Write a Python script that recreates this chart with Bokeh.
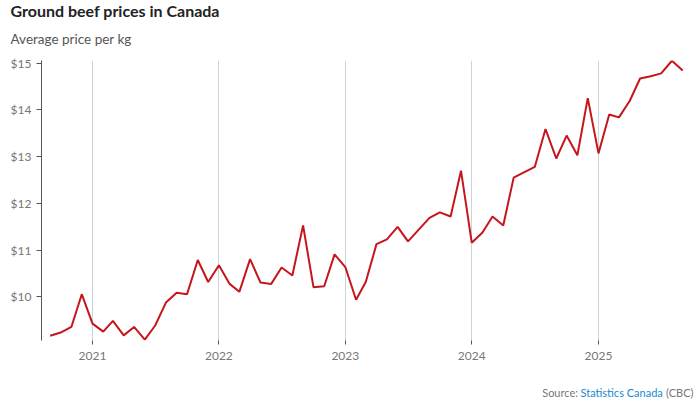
import pandas as pd
from bokeh.plotting import figure
from bokeh.layouts import column
from bokeh.models import (Range1d, FixedTicker, DatetimeTickFormatter, NumeralTickFormatter,
                          Label, Title, ColumnDataSource)
from bokeh.embed import file_html
from bokeh.resources import INLINE

# ---- data ----
start_month = "2020-09-01"
prices = [9.17, 9.24, 9.36, 10.06,
          9.43, 9.26, 9.49, 9.18, 9.36, 9.09, 9.39, 9.88, 10.09, 10.06, 10.79, 10.32,
          10.68, 10.28, 10.11, 10.81, 10.31, 10.28, 10.63, 10.46, 11.53, 10.21, 10.23, 10.91,
          10.64, 9.94, 10.32, 11.13, 11.23, 11.50, 11.19, 11.44, 11.69, 11.81, 11.72, 12.70,
          11.16, 11.38, 11.72, 11.53, 12.55, 12.67, 12.78, 13.59, 12.96, 13.45, 13.03, 14.25,
          13.07, 13.90, 13.84, 14.19, 14.67, 14.72, 14.78, 15.05, 14.84]
dates = pd.date_range(start_month, periods=len(prices), freq="MS")
year_ticks = ["2021-01-01", "2022-01-01", "2023-01-01", "2024-01-01", "2025-01-01"]
y_ticks = [10, 11, 12, 13, 14, 15]

title_text = "Ground beef prices in Canada"
subtitle_text = "Average price per kg"
source_parts = ["Source:", "Statistics Canada", "(CBC)"]

FONT = "Lato"
W = 700
H_MAIN = 380
H_SRC = 21
FRAME_L = 41
FRAME_R = 694

# ---- main chart ----
src = ColumnDataSource(data=dict(x=dates, y=prices))

tick_ms = [pd.Timestamp(t).value // 10**6 for t in year_ticks]
ms_per_px = (tick_ms[-1] - tick_ms[0]) / (598 - 92)
x_start = tick_ms[0] - (92 - FRAME_L) * ms_per_px
x_end = tick_ms[0] + (FRAME_R - 92) * ms_per_px

p = figure(width=W, height=H_MAIN, output_backend="svg", toolbar_location=None,
           x_axis_type="datetime",
           x_range=Range1d(x_start, x_end), y_range=Range1d(9.07, 15.055),
           min_border_left=FRAME_L, min_border_right=W - FRAME_R,
           min_border_top=60, min_border_bottom=40)
p.title.visible = False
p.outline_line_color = None
p.background_fill_color = "white"
p.border_fill_color = "white"

p.line("x", "y", source=src, line_color="#c4161c", line_width=2)

# header: subtitle then title (stacked outward from the frame)
p.add_layout(Title(text=subtitle_text, text_font=FONT, text_font_size="13.5px",
                   text_font_style="normal", text_color="#555555",
                   offset=-31, standoff=27), "above")
p.add_layout(Title(text=title_text, text_font=FONT, text_font_size="16px",
                   text_font_style="bold", text_color="#222222",
                   offset=-31, standoff=-8), "above")

xa = p.xaxis[0]
xa.ticker = FixedTicker(ticks=tick_ms)
xa.formatter = DatetimeTickFormatter(years="%Y", months="%Y", days="%Y", hours="%Y")
xa.axis_line_color = None
xa.major_tick_line_color = "#555555"
xa.major_tick_in = 0
xa.major_tick_out = 4
xa.minor_tick_line_color = None
xa.major_label_text_font = FONT
xa.major_label_text_font_size = "12px"
xa.major_label_text_color = "#777777"
xa.major_label_standoff = 7

ya = p.yaxis[0]
ya.ticker = FixedTicker(ticks=y_ticks)
ya.formatter = NumeralTickFormatter(format="$0")
ya.axis_line_color = "#555555"
ya.axis_line_width = 1
ya.major_tick_line_color = "#555555"
ya.major_tick_in = 0
ya.major_tick_out = 5
ya.minor_tick_line_color = None
ya.major_label_text_font = FONT
ya.major_label_text_font_size = "12px"
ya.major_label_text_color = "#777777"
ya.major_label_standoff = 5

p.xgrid.grid_line_color = "#c9d3d9"
p.xgrid.grid_line_width = 1
p.ygrid.grid_line_color = None

# ---- source strip (its frame is aligned with the chart frame) ----
s = figure(width=W, height=H_SRC, output_backend="svg", toolbar_location=None,
           x_range=Range1d(FRAME_L, FRAME_R), y_range=Range1d(H_SRC, 0),
           x_axis_location=None, y_axis_location=None,
           min_border_left=FRAME_L, min_border_right=W - FRAME_R,
           min_border_top=0, min_border_bottom=0)
s.title.visible = False
s.outline_line_color = None
s.grid.visible = False
src_colors = ["#777777", "#1a8ad0", "#777777"]
src_left = [541.7, 580, 665.5]
for t, c, xl in zip(source_parts, src_colors, src_left):
    s.add_layout(Label(x=xl, y=12, text=t,
                       text_font=FONT, text_font_size="11px", text_color=c,
                       text_align="left", text_baseline="alphabetic"))

layout = column(p, s, spacing=0)
open("out.html", "w").write(file_html(layout, INLINE))
